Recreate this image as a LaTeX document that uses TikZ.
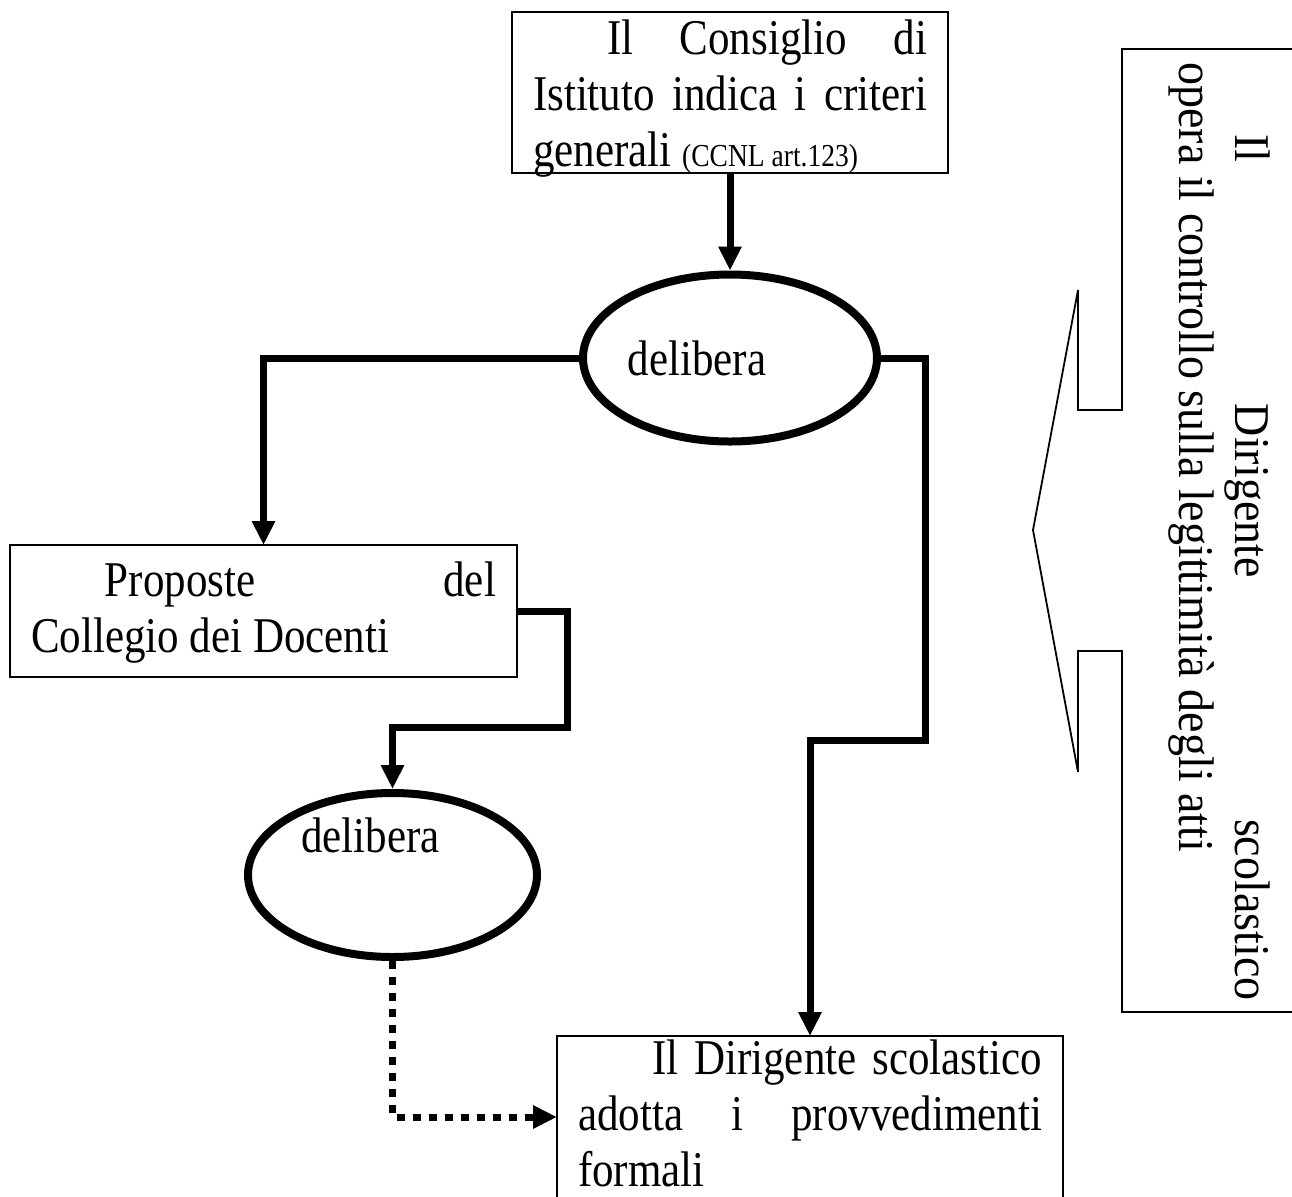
\documentclass[tikz,border=0pt]{standalone}
\usepackage{fontspec}
\setmainfont{Liberation Serif}[FakeStretch=0.86]
\newfontfamily\rotfamily{Liberation Serif}[FakeStretch=0.92]
\usepackage{tikz}
\usetikzlibrary{arrows.meta, shapes.geometric}

\newcommand{\bodyfont}{\fontsize{25pt}{28pt}\selectfont}
\newcommand{\notefont}{\fontsize{16pt}{28pt}\selectfont}

\begin{document}
\begin{tikzpicture}[
    x=0.5pt, y=-0.5pt, % pixel grid, y grows downwards
    boxnode/.style={draw, rectangle, line width=1pt, inner xsep=10.5pt, inner ysep=0pt, outer sep=0pt, align=flush left, font=\bodyfont},
    ellnode/.style={draw, ellipse, line width=4pt, inner sep=0pt, font=\bodyfont},
    arrowstyle/.style={-{Triangle[length=12pt, width=11pt]}, line width=3.5pt},
    dotarrowstyle/.style={arrowstyle, dash pattern=on 4pt off 4pt},
    calloutstyle/.style={line width=0.9pt}
]
\useasboundingbox (0,0) rectangle (1292,1196);

\node[boxnode, text width=197pt, minimum height=80.5pt, text height=15pt, text depth=53.5pt] (consiglio) at (730,92.5)
    {\hspace*{37pt}Il\hfill Consiglio\hfill di\\
     Istituto\hfill indica\hfill i\hfill criteri\\
     generali {\notefont(CCNL art.123)}};

\node[ellnode, minimum width=147pt, minimum height=83.5pt] (delib1) at (730,358) {delibera\hspace*{33pt}};

\node[boxnode, text width=232.5pt, minimum height=66pt, text height=15pt, text depth=30pt] (proposte) at (263.5,611)
    {\hspace*{37pt}Proposte\hfill del\\
     Collegio dei Docenti};

\node[ellnode, minimum width=144.5pt, minimum height=82pt, text height=0pt, text depth=23pt] (delib2) at (392.5,875) {delibera\hspace*{22pt}};

\node[boxnode, text width=232pt, minimum height=120pt, text height=15pt, text depth=97pt] (dirigente) at (810,1156)
    {\hspace*{37pt}Il\hfill Dirigente\hfill scolastico\\
     adotta\hfill i\hfill provvedimenti\\
     formali};

% connectors
\coordinate (turnA) at (925,740);
\coordinate (turnB) at (567,727);
\coordinate (dotin) at ([yshift=-40.5pt]dirigente.north west);

\draw[arrowstyle] (consiglio.south) -- (delib1.north);
\draw[arrowstyle] (delib1.west) -| (proposte.north);
\draw[arrowstyle] (delib1.east) -| (turnA) -| (dirigente.north);
\draw[arrowstyle] (proposte.east) -| (turnB) -| (delib2.north);
\draw[dotarrowstyle] (delib2.south) |- (dotin);

% bracket callout on the right
\draw[calloutstyle] (1310,49) -- (1122,49) -- (1122,410) -- (1078,410) -- (1078,290) -- (1033,530)
    -- (1078,772) -- (1078,651) -- (1122,651) -- (1122,1012) -- (1310,1012);
\node[rotate=-90, anchor=base west, inner sep=0pt, text width=469pt, align=flush left, font=\rotfamily\bodyfont] (controllo) at (1235,62)
    {\hspace*{36pt}Il\hfill Dirigente\hfill scolastico\\
     opera il controllo sulla legittimità degli atti};

\end{tikzpicture}
\end{document}
